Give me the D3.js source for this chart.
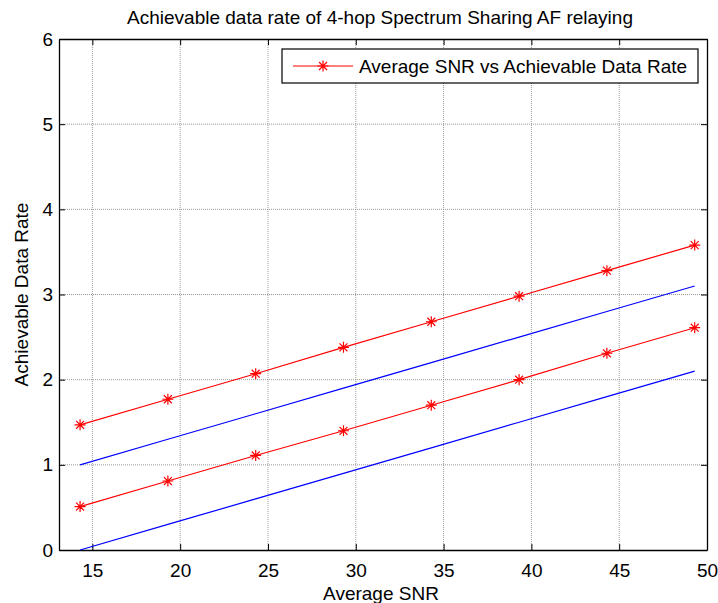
<!DOCTYPE html>
<html>
  <head>
    <meta charset="utf-8">
    <title>Achievable data rate</title>
    <script src="https://cdnjs.cloudflare.com/ajax/libs/d3/7.8.5/d3.min.js"></script>
    <style>
      body { margin: 0; background: #fff; }
      text { font-family: "Liberation Sans", Arial, sans-serif; fill: #000; }
    </style>
  </head>
  <body>
    <div id="chart"></div>
    <script>
      // values
      var snr = [14.3, 19.3, 24.3, 29.3, 34.3, 39.3, 44.3, 49.3];
      var rateUpper = [1.47, 1.77, 2.07, 2.38, 2.68, 2.98, 3.28, 3.58];
      var rateLower = [0.51, 0.81, 1.11, 1.40, 1.70, 2.00, 2.31, 2.61];
      var boundUpper = [1.0, 1.3, 1.6, 1.9, 2.2, 2.5, 2.8, 3.1];
      var boundLower = [0.0, 0.3, 0.6, 0.9, 1.2, 1.5, 1.8, 2.1];
      var xTicks = [15, 20, 25, 30, 35, 40, 45, 50];
      var yTicks = [0, 1, 2, 3, 4, 5, 6];
      var legendLabel = 'Average SNR vs Achievable Data Rate';

      var W = 718, H = 603;
      var margin = {top: 39, right: 11, bottom: 53, left: 59};
      var width = W - margin.left - margin.right;
      var height = H - margin.top - margin.bottom;

      var svg = d3.select('#chart').append('svg').attr('width', W).attr('height', H)
                  .append('g').attr('transform', 'translate(' + margin.left + ',' + margin.top + ')');

      var x = d3.scaleLinear().domain([13.1, 50]).range([0, width]);
      var y = d3.scaleLinear().domain([0, 6]).range([height, 0]);

      // grid
      svg.append('g').selectAll('line').data(xTicks.slice(0, -1)).enter().append('line')
         .attr('x1', function(d){ return x(d); }).attr('x2', function(d){ return x(d); })
         .attr('y1', 0).attr('y2', height)
         .attr('stroke', '#999').attr('stroke-dasharray', '1,1');
      svg.append('g').selectAll('line').data(yTicks.slice(1, -1)).enter().append('line')
         .attr('y1', function(d){ return y(d); }).attr('y2', function(d){ return y(d); })
         .attr('x1', 0).attr('x2', width)
         .attr('stroke', '#999').attr('stroke-dasharray', '1,1');

      // axes, ticks inward
      var xAxis = d3.axisBottom(x).tickValues(xTicks).tickSize(-6).tickSizeOuter(0).tickPadding(14);
      var yAxis = d3.axisLeft(y).tickValues(yTicks).tickSize(-6).tickSizeOuter(0).tickPadding(6)
                    .tickFormat(d3.format('d'));
      var gx = svg.append('g').attr('transform', 'translate(0,' + height + ')').call(xAxis);
      var gy = svg.append('g').call(yAxis);
      var gxTop = svg.append('g').call(d3.axisTop(x).tickValues(xTicks).tickSize(-6).tickSizeOuter(0).tickFormat(''));
      var gyRight = svg.append('g').attr('transform', 'translate(' + width + ',0)')
                       .call(d3.axisRight(y).tickValues(yTicks).tickSize(-6).tickSizeOuter(0).tickFormat(''));
      [gx, gy, gxTop, gyRight].forEach(function(g){
        g.select('.domain').attr('stroke', '#000').attr('stroke-width', 1.3);
        g.selectAll('.tick line').attr('stroke', '#000');
        g.selectAll('.tick text').attr('font-size', 19).attr('font-family', '"Liberation Sans", Arial, sans-serif');
      });

      var line = d3.line().x(function(d){ return x(d[0]); }).y(function(d){ return y(d[1]); });

      function drawSeries(vals, color, marks) {
        var pts = snr.map(function(s, i){ return [s, vals[i]]; });
        svg.append('path').datum(pts).attr('d', line)
           .attr('fill', 'none').attr('stroke', color).attr('stroke-width', 1.2);
        if (marks) {
          svg.append('g').selectAll('path').data(pts).enter().append('path')
             .attr('transform', function(d){ return 'translate(' + x(d[0]) + ',' + y(d[1]) + ')'; })
             .attr('d', star(5.5))
             .attr('fill', 'none').attr('stroke', color).attr('stroke-width', 1.2);
        }
      }

      function star(r) {
        var k = r * 0.72;
        return 'M' + (-r) + ',0L' + r + ',0M0,' + (-r) + 'L0,' + r +
               'M' + (-k) + ',' + (-k) + 'L' + k + ',' + k + 'M' + (-k) + ',' + k + 'L' + k + ',' + (-k);
      }

      drawSeries(boundUpper, '#0000ff', false);
      drawSeries(boundLower, '#0000ff', false);
      drawSeries(rateUpper, '#ff0000', true);
      drawSeries(rateLower, '#ff0000', true);

      // legend
      var lg = svg.append('g').attr('transform', 'translate(' + (282 - margin.left) + ',' + (49 - margin.top) + ')');
      lg.append('rect').attr('width', 416).attr('height', 34).attr('fill', '#fff').attr('stroke', '#000').attr('stroke-width', 1.2);
      lg.append('line').attr('x1', 11).attr('x2', 71).attr('y1', 17).attr('y2', 17).attr('stroke', '#ff0000').attr('stroke-width', 1.2);
      lg.append('path').attr('transform', 'translate(41,17)').attr('d', star(5.5))
        .attr('fill', 'none').attr('stroke', '#ff0000').attr('stroke-width', 1.2);
      lg.append('text').attr('x', 77).attr('y', 24).attr('font-size', 19).text(legendLabel);

      // titles
      svg.append('text').attr('x', 380 - margin.left).attr('y', -15).attr('text-anchor', 'middle')
         .attr('font-size', 19).text('Achievable data rate of 4-hop Spectrum Sharing AF relaying');
      svg.append('text').attr('x', width / 2 - 2).attr('y', height + 50).attr('text-anchor', 'middle')
         .attr('font-size', 19).text('Average SNR');
      svg.append('text').attr('transform', 'translate(-31,' + height / 2 + ') rotate(-90)')
         .attr('text-anchor', 'middle').attr('font-size', 19).text('Achievable Data Rate');
    </script>
  </body>
</html>
